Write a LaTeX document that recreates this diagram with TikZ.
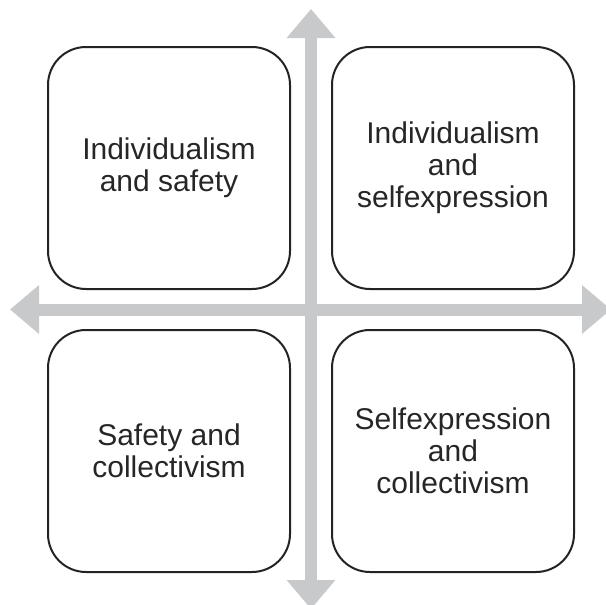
\documentclass[tikz,border=0pt]{standalone}
\usepackage{fontspec}
\setmainfont{Liberation Sans}
\usetikzlibrary{arrows.meta}

\definecolor{axisgray}{RGB}{200,201,203}
\definecolor{boxline}{RGB}{35,35,35}

\tikzset{
  quadbox/.style={draw=boxline, line width=1pt, rounded corners=19pt,
    minimum width=121pt, minimum height=121pt, align=center,
    font=\fontsize{15}{16}\selectfont, text=black!85},
  axisarrow/.style={draw=axisgray, line width=6pt,
    {Triangle[width=23.5pt,length=14.5pt]}-{Triangle[width=23.5pt,length=14.5pt]}}
}

\begin{document}
\begin{tikzpicture}[x=0.5pt,y=-0.5pt]
  \useasboundingbox (0,0) rectangle (605,605);

  % axes
  \coordinate (top) at (311,9);
  \coordinate (bottom) at (311,609);
  \coordinate (left) at (10,309.5);
  \coordinate (right) at (611,309.5);
  \draw[axisarrow] (top) -- (bottom);
  \draw[axisarrow] (left) -- (right);

  % quadrants
  \node[quadbox] (indsafe) at (169,168) {Individualism\\and safety};
  \node[quadbox] (indself) at (453,168) {Individualism\\and\\selfexpression};
  \node[quadbox] (safecoll) at (169,451) {Safety and\\collectivism};
  \node[quadbox] (selfcoll) at (453,451) {Selfexpression\\and\\collectivism};
\end{tikzpicture}
\end{document}
